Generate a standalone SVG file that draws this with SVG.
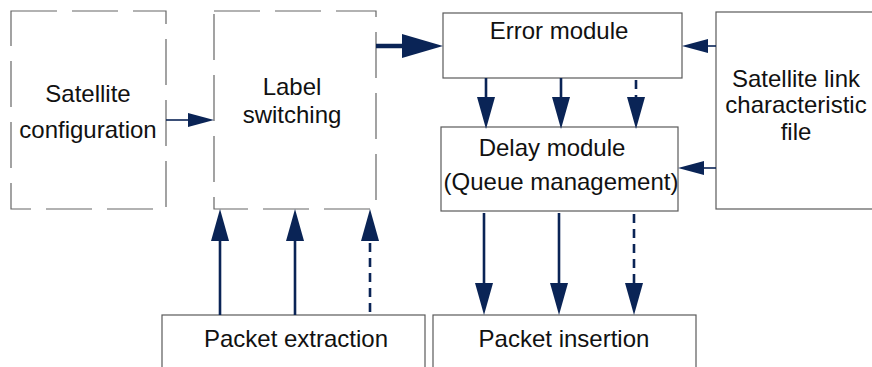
<svg xmlns="http://www.w3.org/2000/svg" width="872" height="367" viewBox="0 0 872 367">
<style>
.box{fill:#fff;stroke:#5a5a5a;stroke-width:1.2}
.dbox{fill:#fff;stroke:#666;stroke-width:1.2;stroke-dasharray:46 15}
.t{font-family:"Liberation Sans",Arial,sans-serif;font-size:24px;fill:#111;text-anchor:middle}
.c{stroke:#0a2456;fill:none}
.v{stroke-width:2.6}
.dash{stroke-dasharray:9 6}
</style>
<defs>
<marker id="hv" markerUnits="userSpaceOnUse" markerWidth="32" markerHeight="18" refX="0" refY="9" orient="auto" overflow="visible"><path d="M0,0 L32,9 L0,18 z" fill="#0a2456"/></marker>
<marker id="hs" markerUnits="userSpaceOnUse" markerWidth="26" markerHeight="14" refX="0" refY="7" orient="auto" overflow="visible"><path d="M0,0 L26,7 L0,14 z" fill="#0a2456"/></marker>
<marker id="ht" markerUnits="userSpaceOnUse" markerWidth="41" markerHeight="24" refX="0" refY="12" orient="auto" overflow="visible"><path d="M0,0 L41,12 L0,24 z" fill="#0a2456"/></marker>
</defs>
<rect width="872" height="367" fill="#fff"/>
<g id="satellite-configuration">
<rect class="dbox" x="11" y="11" width="155" height="198"/>
<text class="t" x="88" y="102">Satellite</text>
<text class="t" x="88" y="138">configuration</text>
</g>
<g id="label-switching">
<rect class="dbox" x="214" y="11" width="162" height="198"/>
<text class="t" x="292" y="95">Label</text>
<text class="t" x="292" y="123">switching</text>
</g>
<g id="error-module">
<rect class="box" x="443" y="13" width="239" height="65"/>
<text class="t" x="559" y="39">Error module</text>
</g>
<g id="delay-module">
<rect class="box" x="441" y="127" width="237" height="84"/>
<text class="t" x="552" y="156">Delay module</text>
<text class="t" x="561" y="190">(Queue management)</text>
</g>
<g id="satellite-link-file">
<rect class="box" x="716" y="12" width="170" height="197"/>
<text class="t" x="796" y="87">Satellite link</text>
<text class="t" x="796" y="113">characteristic</text>
<text class="t" x="796" y="140">file</text>
</g>
<g id="packet-extraction">
<rect class="box" x="162" y="315" width="263" height="70"/>
<text class="t" x="296" y="347">Packet extraction</text>
</g>
<g id="packet-insertion">
<rect class="box" x="433" y="315" width="263" height="70"/>
<text class="t" x="564" y="347">Packet insertion</text>
</g>
<g id="connectors">
<line class="c" x1="166" y1="120" x2="188" y2="120" stroke-width="1.6" marker-end="url(#hs)"/>
<line class="c" x1="376" y1="46" x2="402" y2="46" stroke-width="4.5" marker-end="url(#ht)"/>
<line class="c" x1="716" y1="46" x2="708" y2="46" stroke-width="1.6" marker-end="url(#hs)"/>
<line class="c" x1="716" y1="168" x2="704" y2="168" stroke-width="1.6" marker-end="url(#hs)"/>
<line class="c v" x1="486" y1="78" x2="486" y2="97" marker-end="url(#hv)"/>
<line class="c v" x1="561" y1="78" x2="561" y2="97" marker-end="url(#hv)"/>
<line class="c v dash" x1="636" y1="80" x2="636" y2="97" marker-end="url(#hv)"/>
<line class="c v" x1="220" y1="315" x2="220" y2="241" marker-end="url(#hv)"/>
<line class="c v" x1="295" y1="315" x2="295" y2="241" marker-end="url(#hv)"/>
<line class="c v dash" x1="370" y1="312" x2="370" y2="241" marker-end="url(#hv)"/>
<line class="c v" x1="484" y1="213" x2="484" y2="283" marker-end="url(#hv)"/>
<line class="c v" x1="559" y1="213" x2="559" y2="283" marker-end="url(#hv)"/>
<line class="c v dash" x1="634" y1="214" x2="634" y2="283" marker-end="url(#hv)"/>
</g>
</svg>
